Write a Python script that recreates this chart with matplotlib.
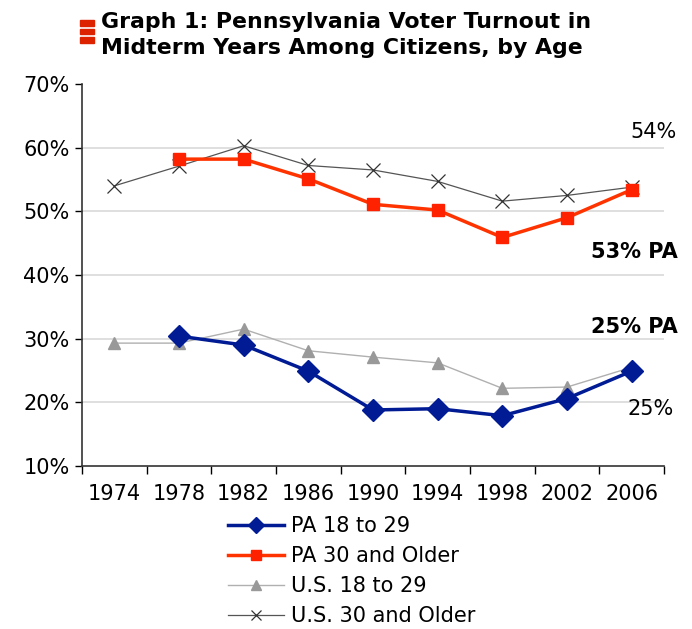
import matplotlib
matplotlib.use('Agg')
import matplotlib.pyplot as plt
from matplotlib.patches import Rectangle

years = ['1974', '1978', '1982', '1986', '1990', '1994', '1998', '2002', '2006']
pa_young = [None, 30.4, 29.0, 24.9, 18.8, 19.0, 17.9, 20.6, 24.9]
pa_old = [None, 58.2, 58.2, 55.1, 51.1, 50.2, 45.9, 49.0, 53.4]
us_young = [29.3, 29.3, 31.5, 28.1, 27.1, 26.2, 22.2, 22.4, 25.5]
us_old = [54.0, 57.1, 60.3, 57.2, 56.5, 54.7, 51.6, 52.5, 53.8]

yticks = [10, 20, 30, 40, 50, 60, 70]

plt.rcParams['font.family'] = 'DejaVu Sans'
fig = plt.figure(figsize=(6.92, 6.29), dpi=100)
# axes box in pixels: x 82..664, y 84..466
ax = fig.add_axes([82 / 692, 1 - 466 / 629, 582 / 692, 382 / 629])

x = list(range(len(years)))

def pts(vals):
    xs = [i for i, v in zip(x, vals) if v is not None]
    ys = [v for v in vals if v is not None]
    return xs, ys

for v in [20, 30, 40, 50, 60]:
    ax.axhline(v, color='#d9d9d9', lw=1.2, zorder=0)

xs, ys = pts(us_young)
ax.plot(xs, ys, color='#b0b0b0', lw=1, marker='^', ms=9, mfc='#999999', mec='#999999',
        label='U.S. 18 to 29', zorder=2)
xs, ys = pts(us_old)
ax.plot(xs, ys, color='#555555', lw=0.9, marker='x', ms=10, mew=0.9, mec='#333333',
        label='U.S. 30 and Older', zorder=2)
xs, ys = pts(pa_old)
ax.plot(xs, ys, color='#ff3300', lw=2.5, marker='s', ms=9, mfc='#ff2200', mec='#ff2200',
        label='PA 30 and Older', zorder=3)
xs, ys = pts(pa_young)
ax.plot(xs, ys, color='#001b94', lw=2.5, marker='D', ms=11.5, mfc='#001b94', mec='#001b94',
        label='PA 18 to 29', zorder=3)

ax.set_xlim(-0.5, 8.5)
ax.set_ylim(10, 70)
ax.set_yticks(yticks)
ax.set_yticklabels([f'{v}%' for v in yticks], fontsize=15)
ax.set_xticks(x)
ax.set_xticklabels(years, fontsize=15)
ax.set_xticks([i - 0.5 for i in range(len(years) + 1)], minor=True)
ax.tick_params(axis='x', which='major', length=0, pad=13)
ax.tick_params(axis='x', which='minor', length=6, width=1, direction='out')
ax.tick_params(axis='y', length=5, width=1, direction='out', pad=4)
for s in ['top', 'right']:
    ax.spines[s].set_visible(False)
for s in ['left', 'bottom']:
    ax.spines[s].set_linewidth(1.2)
    ax.spines[s].set_color('#333333')

ax.text(1.021, 0.874, '54%', transform=ax.transAxes, ha='right', va='center', fontsize=15)
ax.text(1.023, 0.56, '53% PA', transform=ax.transAxes, ha='right', va='center',
        fontsize=15, fontweight='bold')
ax.text(1.023, 0.364, '25% PA', transform=ax.transAxes, ha='right', va='center',
        fontsize=15, fontweight='bold')
ax.text(1.017, 0.149, '25%', transform=ax.transAxes, ha='right', va='center', fontsize=15)

handles, labels = ax.get_legend_handles_labels()
order = [3, 2, 0, 1]
leg = fig.legend([handles[i] for i in order], [labels[i] for i in order],
                 loc='upper left', bbox_to_anchor=(220 / 692, 1 - 508 / 629), frameon=False,
                 fontsize=15, handlelength=2.65, handletextpad=0.35, labelspacing=0.48,
                 markerscale=0.75, borderaxespad=0)

fig.text(101 / 692, 1 - 12 / 629,
         'Graph 1: Pennsylvania Voter Turnout in\nMidterm Years Among Citizens, by Age',
         ha='left', va='top', fontsize=15.8, fontweight='bold', linespacing=1.4)
for y0 in [20, 28.5, 37]:
    fig.patches.append(Rectangle((80 / 692, 1 - (y0 + 5.5) / 629), 14 / 692, 5.5 / 629,
                                 transform=fig.transFigure, color='#dd2200'))

fig.savefig('out.png', dpi=100)
